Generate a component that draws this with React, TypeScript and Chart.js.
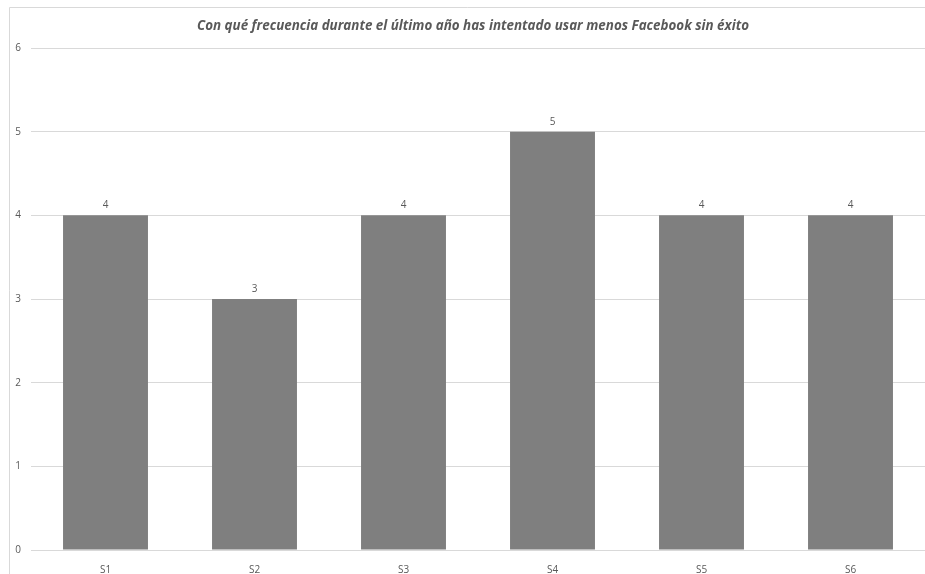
import React, { useEffect, useRef } from "react";
import { Chart, registerables } from "chart.js";

Chart.register(...registerables);

const categories = ["S1", "S2", "S3", "S4", "S5", "S6"];
const values = [4, 3, 4, 5, 4, 4];
const yTicks = [0, 1, 2, 3, 4, 5, 6];
const title = "Con qué frecuencia durante el último año has intentado usar menos Facebook sin éxito";

const W = 925;
const H = 574;

const frame = {
  id: "frame",
  beforeDraw(chart: any) {
    const ctx = chart.ctx;
    ctx.save();
    ctx.fillStyle = "#ffffff";
    ctx.fillRect(0, 0, chart.width, chart.height);
    ctx.strokeStyle = "#d9d9d9";
    ctx.lineWidth = 1;
    ctx.beginPath();
    ctx.moveTo(9.5, chart.height);
    ctx.lineTo(9.5, 7.5);
    ctx.lineTo(chart.width, 7.5);
    ctx.stroke();
    ctx.restore();
  },
  afterDraw(chart: any) {
    const ctx = chart.ctx;
    ctx.save();
    ctx.fillStyle = "#595959";
    ctx.font = "italic bold 13.4px 'Open Sans'";
    ctx.textAlign = "center";
    ctx.textBaseline = "middle";
    ctx.fillText(title, 473, 26.5);
    ctx.font = "10px 'Open Sans'";
    ctx.textBaseline = "middle";
    const meta = chart.getDatasetMeta(0);
    meta.data.forEach((bar: any, i: number) => {
      ctx.fillText(String(values[i]), bar.x, bar.y - 10);
    });
    ctx.restore();
  },
};

export default function App() {
  const ref = useRef<HTMLCanvasElement>(null);
  useEffect(() => {
    if (!ref.current) return;
    const chart = new Chart(ref.current, {
      type: "bar",
      data: {
        labels: categories,
        datasets: [
          {
            data: values,
            backgroundColor: "#7f7f7f",
            borderWidth: 0,
            categoryPercentage: 0.57,
            barPercentage: 1,
          },
        ],
      },
      options: {
        responsive: false,
        animation: false,
        layout: { padding: { top: 48, left: 0, right: 0, bottom: 0 } },
        plugins: {
          legend: { display: false },
          title: { display: false },
          tooltip: { enabled: false },
        },
        scales: {
          x: {
            grid: { display: false },
            border: { display: false },
            ticks: { color: "#595959", font: { size: 10, family: "'Open Sans'" }, padding: 6 },
            afterFit: (s: any) => {
              s.height = 24;
            },
          },
          y: {
            min: 0,
            max: 6,
            afterBuildTicks: (s: any) => {
              s.ticks = yTicks.map((v) => ({ value: v }));
            },
            grid: { color: "#d9d9d9", drawTicks: false },
            border: { display: false },
            ticks: { color: "#595959", font: { size: 10, family: "'Open Sans'" }, padding: 10 },
            afterFit: (s: any) => {
              s.width = 31;
            },
          },
        },
      },
      plugins: [frame],
    });
    return () => chart.destroy();
  }, []);
  return (
    <div style={{ position: "fixed", left: 0, top: 0, width: W, height: H }}>
      <canvas ref={ref} width={W} height={H} style={{ display: "block" }} />
    </div>
  );
}
